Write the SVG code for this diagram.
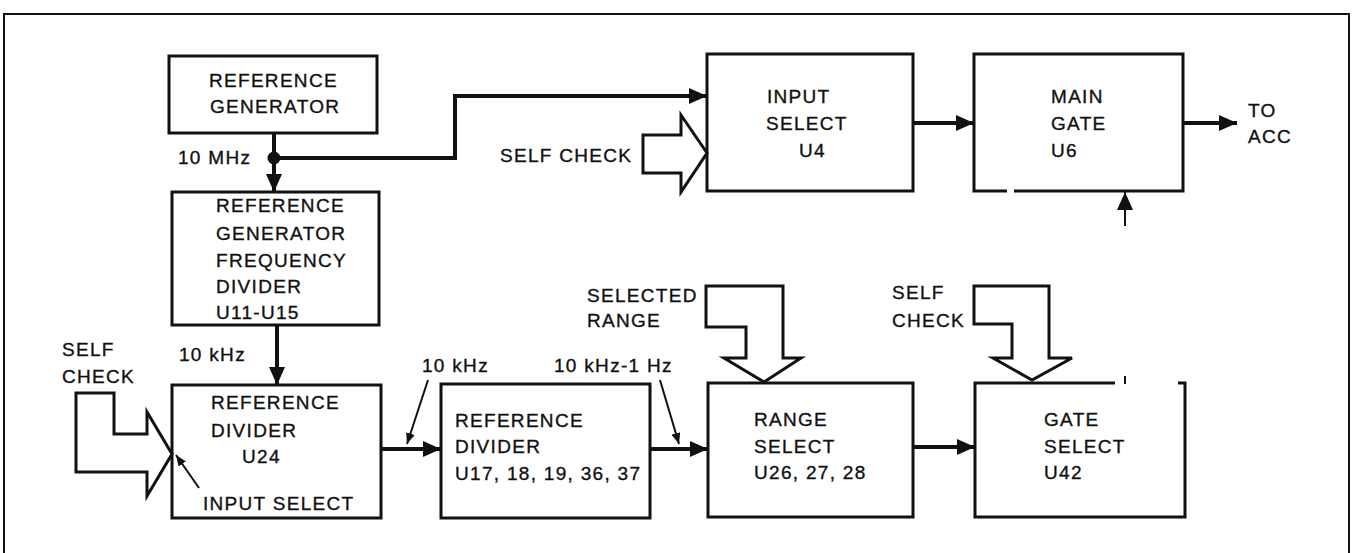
<svg xmlns="http://www.w3.org/2000/svg" width="1355" height="553" viewBox="0 0 1355 553">
<style>
text{font-family:"Liberation Sans",Arial,sans-serif;font-size:19px;letter-spacing:1.3px;fill:#111;stroke:#111;stroke-width:0.35}
.box{fill:none;stroke:#111;stroke-width:3}
.w{fill:none;stroke:#111;stroke-width:4}
.t{fill:none;stroke:#111;stroke-width:2}
.hol{fill:#fff;stroke:#111;stroke-width:3;stroke-linejoin:miter}
</style>
<defs>
<marker id="ah" markerWidth="18" markerHeight="16" refX="18" refY="8" orient="auto" markerUnits="userSpaceOnUse"><path d="M0,0 L18,8 L0,16 Z" fill="#111"/></marker>
<marker id="sah" markerWidth="11" markerHeight="9" refX="11" refY="4.5" orient="auto" markerUnits="userSpaceOnUse"><path d="M0,0 L11,4.5 L0,9 Z" fill="#111"/></marker>
</defs>
<rect width="1355" height="553" fill="#fff"/>
<path d="M4,560 V14 H1349 V560" fill="none" stroke="#111" stroke-width="2"/>

<g id="refgen"><rect class="box" x="169" y="56" width="208" height="77"/><text x="209" y="87">REFERENCE</text><text x="210" y="113">GENERATOR</text></g>
<g id="freqdiv"><rect class="box" x="172" y="192" width="207" height="133"/><text x="216" y="212">REFERENCE</text><text x="216" y="240">GENERATOR</text><text x="216" y="267">FREQUENCY</text><text x="216" y="293">DIVIDER</text><text x="216" y="319">U11-U15</text></g>
<g id="inputselect"><rect class="box" x="707" y="54" width="206" height="137"/><text x="767" y="103">INPUT</text><text x="766" y="130">SELECT</text><text x="799" y="157">U4</text></g>
<g id="maingate"><path class="box" d="M1007,191 H974 V54 H1183 V191 H1014"/><text x="1051" y="103">MAIN</text><text x="1051" y="130">GATE</text><text x="1051" y="157">U6</text></g>
<g id="toacc"><text x="1248" y="117">TO</text><text x="1248" y="143">ACC</text></g>
<g id="refdiv"><rect class="box" x="172" y="385" width="209" height="133"/><text x="211" y="409">REFERENCE</text><text x="211" y="437">DIVIDER</text><text x="242" y="463">U24</text><text x="203" y="510">INPUT SELECT</text></g>
<g id="refdiv2"><rect class="box" x="441" y="384" width="209" height="134"/><text x="455" y="427">REFERENCE</text><text x="455" y="453">DIVIDER</text><text x="455" y="480">U17, 18, 19, 36, 37</text></g>
<g id="rangeselect"><rect class="box" x="708" y="383" width="205" height="134"/><text x="754" y="426">RANGE</text><text x="754" y="453">SELECT</text><text x="754" y="479">U26, 27, 28</text></g>
<g id="gateselect"><path class="box" d="M1115,383 H975 V517 H1185 V383 H1178"/><path class="t" d="M1125,376 V384"/><text x="1044" y="426">GATE</text><text x="1044" y="453">SELECT</text><text x="1044" y="479">U42</text></g>

<g id="selfcheck-top"><path class="hol" d="M643,135 H681 V115 L707,153 L681,192 V173 H643 Z"/><text x="500" y="162">SELF CHECK</text></g>
<g id="selfcheck-left"><path class="hol" d="M76,393 H114 V434 H147 V412 L172,454 L147,496 V472 H76 Z"/><text x="62" y="356">SELF</text><text x="62" y="383">CHECK</text></g>
<g id="selectedrange"><path class="hol" d="M706,286 H783 V358 H801 L764,382 L724,358 H746 V327 H706 Z"/><text x="587" y="302">SELECTED</text><text x="587" y="327">RANGE</text></g>
<g id="selfcheck-gate"><path class="hol" d="M974,286 H1049 V358 H1072 L1032,380 L993,358 H1012 V324 H974 Z"/><text x="892" y="299">SELF</text><text x="892" y="327">CHECK</text></g>

<g id="labels"><text x="178" y="164">10 MHz</text><text x="179" y="361">10 kHz</text><text x="422" y="372">10 kHz</text><text x="554" y="372">10 kHz-1 Hz</text></g>

<g id="connectors">
<path class="w" d="M274,133 V158"/>
<circle cx="274" cy="158" r="6.5" fill="#111"/>
<path class="w" d="M274,158 V192" marker-end="url(#ah)"/>
<path class="w" d="M274,158 H455 V96 H707" marker-end="url(#ah)"/>
<path class="w" d="M913,123 H974" marker-end="url(#ah)"/>
<path class="w" d="M1183,123 H1237" marker-end="url(#ah)"/>
<path class="t" d="M1125,226 V192" marker-end="url(#ah)"/>
<path class="w" d="M277,325 V385" marker-end="url(#ah)"/>
<path class="w" d="M381,449 H441" marker-end="url(#ah)"/>
<path class="w" d="M650,449 H708" marker-end="url(#ah)"/>
<path class="w" d="M913,447 H975" marker-end="url(#ah)"/>
<path class="t" d="M428,380 L407,444" marker-end="url(#sah)"/>
<path class="t" d="M660,380 L679,444" marker-end="url(#sah)"/>
<path class="t" d="M199,488 L176,455" marker-end="url(#sah)"/>
</g>
</svg>
